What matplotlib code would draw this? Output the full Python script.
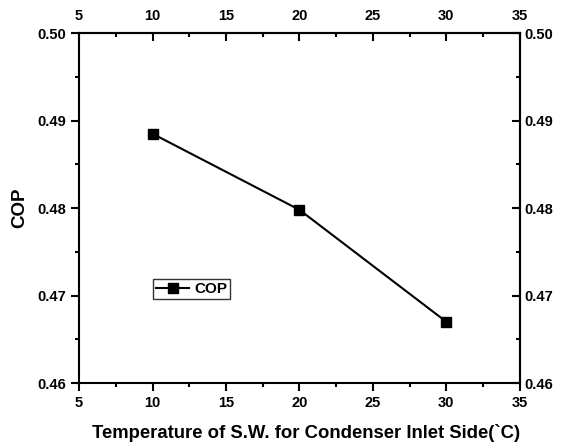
import matplotlib.pyplot as plt
from matplotlib.ticker import MultipleLocator, FormatStrFormatter

plt.rcParams["font.family"] = ["Liberation Sans", "DejaVu Sans"]
plt.rcParams["font.weight"] = "bold"

# Condenser inlet sea-water temperature (°C) vs. coefficient of performance
temperature = [10, 20, 30]
cop = [0.4885, 0.4798, 0.4670]

fig = plt.figure(figsize=(5.65, 4.48), dpi=100)
ax = fig.add_axes([0.140, 0.145, 0.780, 0.781])

ax.plot(temperature, cop, color="black", linewidth=1.5, marker="s",
        markersize=7.5, label="COP")

ax.set_xlim(5, 35)
ax.set_ylim(0.46, 0.50)


def style_axis(axis, direction, pad):
    axis.set_major_locator(MultipleLocator(5 if axis.axis_name == "x" else 0.01))
    axis.set_minor_locator(MultipleLocator(2.5 if axis.axis_name == "x" else 0.005))
    if axis.axis_name == "y":
        axis.set_major_formatter(FormatStrFormatter("%.2f"))
    axis.set_tick_params(which="both", direction=direction, width=1.5,
                         labelsize=10.5, pad=pad)
    axis.set_tick_params(which="major", length=6)
    axis.set_tick_params(which="minor", length=3)


# bottom/left ticks point out, mirrored top/right ticks point in
style_axis(ax.xaxis, "out", 3)
style_axis(ax.yaxis, "out", 3)
top = ax.secondary_xaxis("top")
right = ax.secondary_yaxis("right")
style_axis(top.xaxis, "in", 7)
style_axis(right.yaxis, "in", 3.5)
for a in (ax, top, right):
    for side in a.spines.values():
        side.set_linewidth(1.5)

ax.set_xlabel("Temperature of S.W. for Condenser Inlet Side(`C)",
              fontsize=13.3, fontweight="bold")
ax.xaxis.set_label_coords(0.515, -0.118)
ax.set_ylabel("COP", fontsize=13.5, fontweight="bold", labelpad=7)

leg = ax.legend(loc="lower left", bbox_to_anchor=(0.167, 0.24), fontsize=11,
                frameon=True, fancybox=False, edgecolor="black",
                handlelength=2.2, handletextpad=0.3, borderpad=0.2,
                borderaxespad=0)
leg.get_frame().set_linewidth(1.0)

fig.savefig("out.png", dpi=100, facecolor="white")
